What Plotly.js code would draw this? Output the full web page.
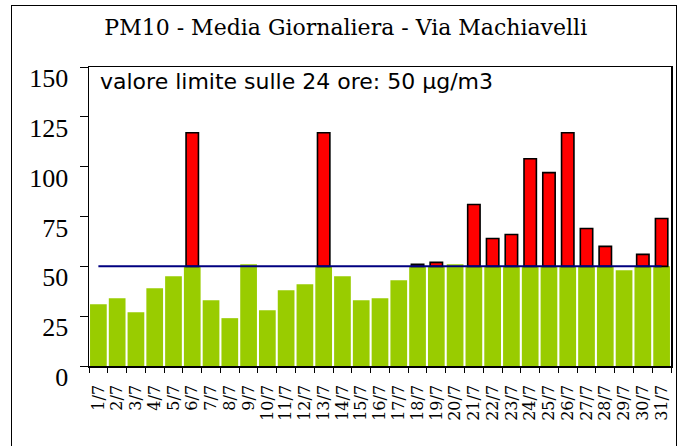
<!DOCTYPE html>
<html>
<head>
<meta charset="utf-8">
<script src="https://cdn.plot.ly/plotly-3.0.1.min.js"></script>
<style>
html,body{margin:0;padding:0;background:#fff;}
#wrap{position:relative;width:682px;height:446px;overflow:hidden;}
#chart{width:682px;height:446px;}
#frame{position:absolute;left:11px;top:5px;width:666px;height:460px;border:1px solid #000;box-sizing:border-box;pointer-events:none;}
</style>
</head>
<body>
<div id="wrap"><div id="chart"></div><div id="frame"></div></div>
<script>
// Days (July)
const giorni = ['1/7','2/7','3/7','4/7','5/7','6/7','7/7','8/7','9/7','10/7','11/7','12/7','13/7','14/7','15/7','16/7','17/7','18/7','19/7','20/7','21/7','22/7','23/7','24/7','25/7','26/7','27/7','28/7','29/7','30/7','31/7'];
// Green part of each bar (up to the limit)
const sottoLimite = [31,34,27,39,45,50,33,24,51,28,38,41,50,45,33,34,43,50,50,51,50,50,50,50,50,50,50,50,48,50,50];
// Red part of each bar (amount above the limit), null = no exceedance
const superamento = [null,null,null,null,null,67,null,null,null,null,null,null,67,null,null,null,null,1,2,null,31,14,16,54,47,67,19,10,null,6,24];
const limite = 50;
const yTicks = [0,25,50,75,100,125,150];

const traces = [
  {
    type:'bar', x:giorni, y:sottoLimite, width:0.89,
    marker:{color:'#99CC00', line:{width:0}},
    hoverinfo:'skip'
  },
  {
    type:'bar', x:giorni, y:superamento, base:superamento.map(v=>limite), width:0.66,
    marker:{color:'#FF0000', line:{color:'#000000', width:1.6}},
    hoverinfo:'skip'
  },
  {
    type:'scatter', mode:'lines', x:[giorni[0], giorni[giorni.length-1]], y:[limite, limite],
    line:{color:'#000080', width:2}, hoverinfo:'skip'
  }
];

const layout = {
  width:682, height:446,
  margin:{l:89, r:11, t:67, b:80, pad:0},
  paper_bgcolor:'#ffffff', plot_bgcolor:'#ffffff',
  showlegend:false,
  barmode:'overlay',
  title:{
    text:'PM10 - Media Giornaliera - Via Machiavelli',
    font:{family:'DejaVu Serif', size:22, color:'#000'},
    x:0.507, xanchor:'center', xref:'container',
    y:0.939, yanchor:'middle', yref:'container'
  },
  xaxis:{
    type:'category', categoryorder:'array', categoryarray:giorni,
    range:[-0.5, giorni.length-0.5],
    tickmode:'linear', tick0:0, dtick:1,
    showline:true, linecolor:'#000', linewidth:1.5, mirror:true,
    ticks:'outside', ticklen:5, tickcolor:'#000', tickwidth:1, tickson:'boundaries',
    tickangle:-90, tickfont:{family:'DejaVu Serif', size:16, color:'#000'},
    ticklabelstandoff:11,
    showgrid:false, zeroline:false, fixedrange:true
  },
  yaxis:{
    range:[0,150], tickvals:yTicks, ticktext:yTicks.map(String),
    showline:true, linecolor:'#000', linewidth:1.5, mirror:true,
    ticks:'outside', ticklen:8, tickcolor:'#000', tickwidth:1,
    tickfont:{family:'Liberation Serif', size:26, color:'#000'},
    ticklabelshift:11, ticklabelstandoff:6,
    showgrid:false, zeroline:false, fixedrange:true
  },
  annotations:[{
    text:'valore limite sulle 24 ore: 50 µg/m3',
    xref:'paper', yref:'paper', x:0.0155, y:0.953, xanchor:'left', yanchor:'middle',
    showarrow:false, font:{family:'DejaVu Sans', size:22, color:'#000'}
  }]
};

Plotly.newPlot('chart', traces, layout, {staticPlot:true, displayModeBar:false});
</script>
</body>
</html>
